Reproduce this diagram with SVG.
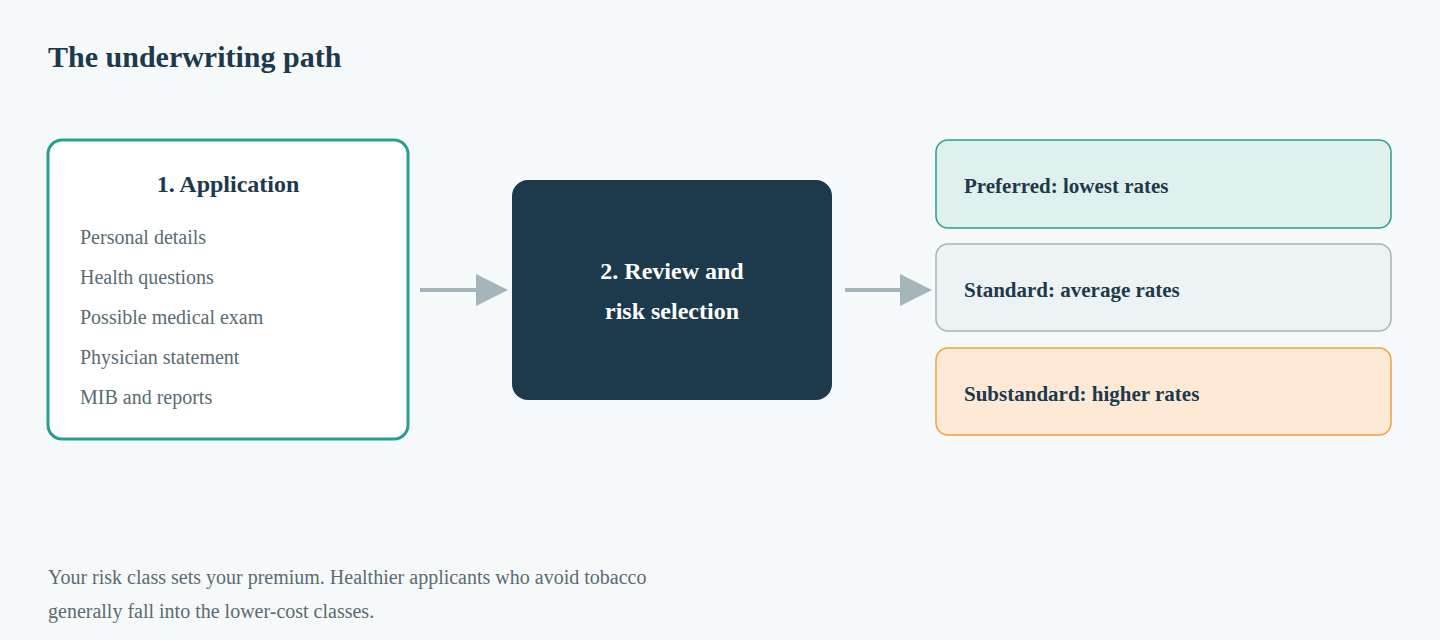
<svg xmlns="http://www.w3.org/2000/svg" width="1440" height="640" viewBox="0 0 1440 640">
<style>
text{font-family:"Liberation Serif","DejaVu Serif",serif}
.t{font-weight:bold;fill:#1c3a4c}
.i{font-size:20px;fill:#5a6b73}
.c{font-weight:bold;font-size:21px;fill:#1c3a4c}
</style>
<defs><marker id="a" markerWidth="8" markerHeight="8" refX="0" refY="4" orient="auto" markerUnits="userSpaceOnUse" viewBox="0 0 8 8"><path d="M0,0L8,4L0,8Z" fill="#a5b4b9"/></marker></defs>
<rect width="1440" height="640" fill="#f5f9fa"/>
<text x="48" y="67" class="t" font-size="30">The underwriting path</text>
<g id="application">
<rect x="48" y="140" width="360" height="299" rx="14" fill="#fff" stroke="#2a9d8f" stroke-width="3"/>
<text x="228" y="192" class="t" font-size="24" text-anchor="middle">1. Application</text>
<text x="80" y="244" class="i">Personal details</text>
<text x="80" y="284" class="i">Health questions</text>
<text x="80" y="324" class="i">Possible medical exam</text>
<text x="80" y="364" class="i">Physician statement</text>
<text x="80" y="404" class="i">MIB and reports</text>
</g>
<g id="review">
<rect x="512" y="180" width="320" height="220" rx="16" fill="#1c3a4c"/>
<text x="672" y="279" font-size="24" font-weight="bold" fill="#fff" text-anchor="middle">2. Review and</text>
<text x="672" y="319" font-size="24" font-weight="bold" fill="#fff" text-anchor="middle">risk selection</text>
</g>
<g id="connectors" stroke="#a5b4b9" stroke-width="4">
<line x1="420" y1="290" x2="476" y2="290"/>
<path d="M476,274L508,290L476,306Z" fill="#a5b4b9" stroke="none"/>
<line x1="845" y1="290" x2="900" y2="290"/>
<path d="M900,274L932,290L900,306Z" fill="#a5b4b9" stroke="none"/>
</g>
<g id="preferred">
<rect x="936" y="140" width="455" height="88" rx="12" fill="#e0f0ec" stroke="#2a9d8f" stroke-width="1.5"/>
<text x="964" y="193" class="c">Preferred: lowest rates</text>
</g>
<g id="standard">
<rect x="936" y="244" width="455" height="87" rx="12" fill="#edf2f4" stroke="#a5b4b9" stroke-width="1.5"/>
<text x="964" y="297" class="c">Standard: average rates</text>
</g>
<g id="substandard">
<rect x="936" y="348" width="455" height="87" rx="12" fill="#fde9d6" stroke="#f0a040" stroke-width="1.5"/>
<text x="964" y="401" class="c">Substandard: higher rates</text>
</g>
<text x="48" y="584" class="i">Your risk class sets your premium. Healthier applicants who avoid tobacco</text>
<text x="48" y="618" class="i">generally fall into the lower-cost classes.</text>
</svg>
